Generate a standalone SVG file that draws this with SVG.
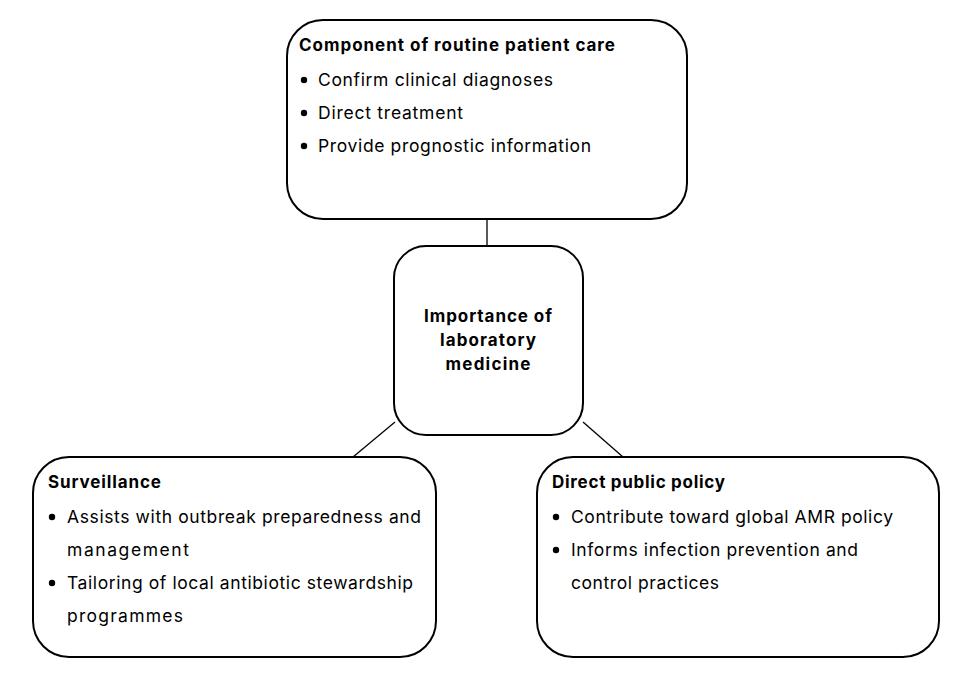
<svg xmlns="http://www.w3.org/2000/svg" width="977" height="675" viewBox="0 0 977 675">
<style>
.box{fill:#fff;stroke:#000;stroke-width:2}
.t{font-family:Inter,"Open Sans","Liberation Sans",sans-serif;font-size:17.5px;fill:#000}
.b{font-weight:bold;font-size:17px}
.c{text-anchor:middle}
.conn line{stroke:#000;stroke-width:1.3}
.dot{fill:#000}
</style>
<rect width="977" height="675" fill="#fff"/>
<g class="conn" id="connectors">
<line x1="487" y1="220" x2="487" y2="246"/>
<line x1="353" y1="457" x2="395" y2="422"/>
<line x1="583" y1="422" x2="623" y2="457"/>
</g>
<g id="node-care">
<rect class="box" x="287" y="20" width="400" height="199" rx="36"/>
<text class="t b" x="299" y="51" textLength="316">Component of routine patient care</text>
<circle class="dot" cx="304" cy="80" r="3.2"/>
<text class="t" x="318" y="86" textLength="235">Confirm clinical diagnoses</text>
<circle class="dot" cx="304" cy="113" r="3.2"/>
<text class="t" x="318" y="119" textLength="145">Direct treatment</text>
<circle class="dot" cx="304" cy="146" r="3.2"/>
<text class="t" x="318" y="152" textLength="273">Provide prognostic information</text>
</g>
<g id="node-center">
<rect class="box" x="394" y="246" width="189" height="189" rx="32"/>
<text class="t b c" x="488" y="322" textLength="128">Importance of</text>
<text class="t b c" x="488" y="346" textLength="96">laboratory</text>
<text class="t b c" x="488" y="370" textLength="85">medicine</text>
</g>
<g id="node-surveillance">
<rect class="box" x="33" y="457" width="403" height="200" rx="36"/>
<text class="t b" x="48" y="488" textLength="113">Surveillance</text>
<circle class="dot" cx="52" cy="517" r="3.2"/>
<text class="t" x="67" y="523" textLength="354">Assists with outbreak preparedness and</text>
<text class="t" x="67" y="556" textLength="122">management</text>
<circle class="dot" cx="52" cy="583" r="3.2"/>
<text class="t" x="67" y="589" textLength="346">Tailoring of local antibiotic stewardship</text>
<text class="t" x="67" y="622" textLength="116">programmes</text>
</g>
<g id="node-policy">
<rect class="box" x="537" y="457" width="402" height="200" rx="36"/>
<text class="t b" x="552" y="488" textLength="173">Direct public policy</text>
<circle class="dot" cx="556" cy="517" r="3.2"/>
<text class="t" x="571" y="523" textLength="322">Contribute toward global AMR policy</text>
<circle class="dot" cx="556" cy="550" r="3.2"/>
<text class="t" x="571" y="556" textLength="287">Informs infection prevention and</text>
<text class="t" x="571" y="589" textLength="148">control practices</text>
</g>
</svg>
